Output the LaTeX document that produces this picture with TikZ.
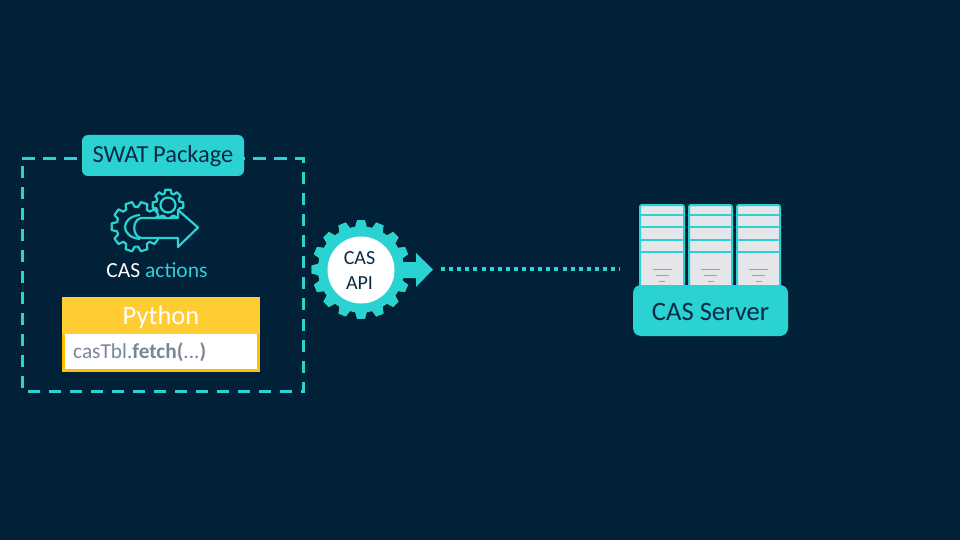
\documentclass[tikz,border=0pt]{standalone}
\usepackage{fontspec}
\setmainfont{Carlito}
\definecolor{bgc}{HTML}{012138}
\definecolor{teal}{HTML}{2AD2D2}
\definecolor{inkc}{HTML}{0B2A44}
\definecolor{yel}{HTML}{FFCC33}
\definecolor{yelb}{HTML}{FFC000}
\definecolor{srv}{HTML}{E4E6EA}
\definecolor{greyt}{HTML}{7A869A}
\tikzset{
  x=1pt,y=-1pt,
  badge/.style={fill=teal,rounded corners=6pt,text=inkc,inner sep=0pt,anchor=center},
  iconline/.style={draw=teal,line width=2.2pt,line join=round,fill=bgc},
  rack/.style={draw=teal,line width=2pt,fill=srv,rounded corners=2pt},
  shelf/.style={draw=teal,line width=2pt},
  vent/.style={draw=teal,line width=1pt},
  lbl/.style={inner sep=0pt,anchor=center},
}
% \gearpoly{cx}{cy}{Rout}{Rroot}{teeth}{extra draw options}
\newcommand{\gearpoly}[6]{%
  \pgfmathsetmacro{\gs}{360/#5}%
  \draw[#6] ({#1+#4*cos(-0.36*\gs)},{#2+#4*sin(-0.36*\gs)})
    \foreach \k in {1,...,#5}{
      -- ({#1+#3*cos((\k-1)*\gs-0.22*\gs)},{#2+#3*sin((\k-1)*\gs-0.22*\gs)})
      -- ({#1+#3*cos((\k-1)*\gs+0.22*\gs)},{#2+#3*sin((\k-1)*\gs+0.22*\gs)})
      -- ({#1+#4*cos((\k-1)*\gs+0.36*\gs)},{#2+#4*sin((\k-1)*\gs+0.36*\gs)})
      -- ({#1+#4*cos(\k*\gs-0.36*\gs)},{#2+#4*sin(\k*\gs-0.36*\gs)})
    } -- cycle;%
}
\begin{document}
\begin{tikzpicture}
\useasboundingbox (0,0) rectangle (960,540);
\fill[bgc] (0,0) rectangle (960,540);

% dashed package frame
\draw[teal,line width=3pt,dash pattern=on 12.5pt off 8.5pt] (22.3,159) -- (303.5,159) -- (303.5,391.5) -- (22.3,391.5) -- cycle;
\node[badge,minimum width=162pt,minimum height=41pt] (swatbox) at (163,155.5) {};
\node[lbl,text=inkc,font=\fontsize{24.5}{26}\selectfont] (swat) at (163,156) {SWAT\kern-1pt{} Package};

% actions icon
\gearpoly{168}{205}{15.5}{12}{8}{iconline}
\draw[iconline] (168,205) circle (7.5);
\gearpoly{136.5}{226.7}{25}{20}{10}{iconline}
\draw[iconline,fill=none] (140,215) .. controls (120,217) and (120,237) .. (140,239);
\draw[iconline] (141,218) -- (178,218) -- (178,210) -- (198,227.5) -- (178,247) -- (178,238) -- (141,238)
  .. controls (132,236) and (132,220) .. (141,218) -- cycle;
\node[lbl,font=\fontsize{21.5}{24}\selectfont,text=white] (actions) at (157,270) {CAS \textcolor{teal}{actions}};

% python box
\fill[yelb] (62,334) rectangle (260,372);
\fill[yel] (62,297) rectangle (260,334);
\node[lbl,fill=white,minimum width=192pt,minimum height=35pt] (codebox) at (161,351.5) {};
\node[lbl,font=\fontsize{26.5}{30}\selectfont,text=white] (python) at (161,317) {Python};
\node[lbl,anchor=west,font=\fontsize{21.3}{24}\selectfont,text=greyt] (code) at (73,352) {casTbl.\textbf{fetch(}...\textbf{)}};

% API gear and arrow
\gearpoly{361}{269.5}{50}{43.5}{16}{fill=teal}
\fill[teal] (400,262) -- (416,262) -- (416,253) -- (433,269.5) -- (416,287) -- (416,278) -- (400,278) -- cycle;
\node[circle,fill=white,minimum size=67pt,inner sep=0pt] (apicircle) at (361,270) {};
\node[lbl,align=center,text=inkc,font=\fontsize{20}{25}\selectfont] (api) at (359.5,271) {CAS\\API};

% servers
\foreach \xa/\xb/\nm in {640/684/a,689/732/b,737/780/c}{
  \draw[rack] (\xa,205) rectangle (\xb,292);
  \foreach \yy in {214.5,227,240,252}{ \draw[shelf] (\xa,\yy) -- (\xb,\yy); }
  \pgfmathsetmacro{\xm}{(\xa+\xb)/2}
  \draw[vent] (\xm-9.5,269) -- (\xm+9.5,269);
  \draw[vent] (\xm-6.5,275) -- (\xm+6.5,275);
  \draw[vent] (\xm-3,281) -- (\xm+3,281);
}
\node[badge,rounded corners=8pt,minimum width=155pt,minimum height=51pt] (serverbox) at (710.5,310.5) {};
\node[lbl,text=inkc,font=\fontsize{26.6}{30}\selectfont] (server) at (710.5,311.5) {CAS Server};

% connector
\coordinate (arrowend) at (441,269);
\coordinate (serverend) at (619.5,269);
\draw[teal,line width=4pt,dash pattern=on 4pt off 4.1pt] (arrowend) -- (serverend);
\end{tikzpicture}
\end{document}
